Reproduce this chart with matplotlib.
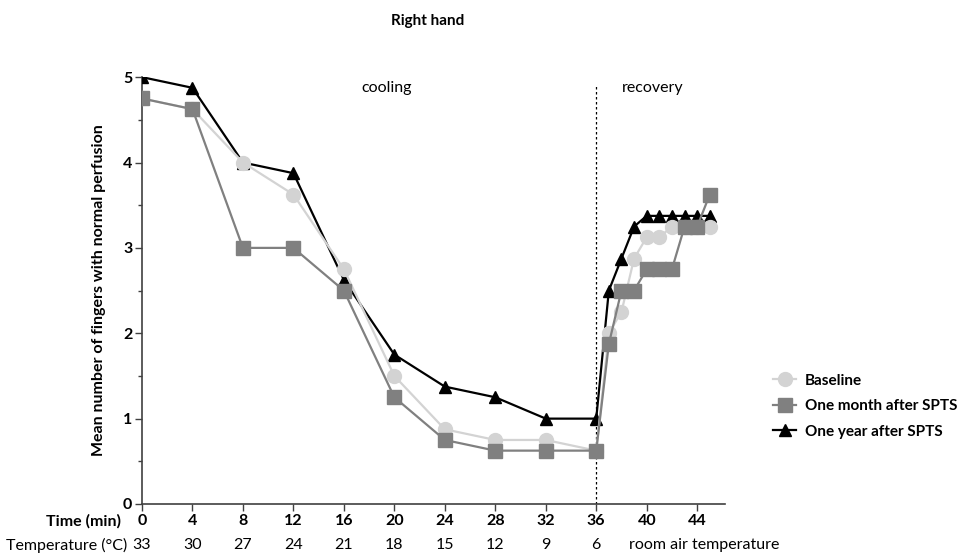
import matplotlib.pyplot as plt
from matplotlib.ticker import MultipleLocator

plt.rcParams['font.family'] = ['Lato', 'DejaVu Sans']

# Data
time = [0, 4, 8, 12, 16, 20, 24, 28, 32, 36, 37, 38, 39, 40, 41, 42, 43, 44, 45]
baseline = [4.75, 4.625, 4.0, 3.625, 2.75, 1.5, 0.875, 0.75, 0.75, 0.625,
            2.0, 2.25, 2.875, 3.125, 3.125, 3.25, 3.25, 3.25, 3.25]
one_month = [4.75, 4.625, 3.0, 3.0, 2.5, 1.25, 0.75, 0.625, 0.625, 0.625,
             1.875, 2.5, 2.5, 2.75, 2.75, 2.75, 3.25, 3.25, 3.625]
one_year = [5.0, 4.875, 4.0, 3.875, 2.625, 1.75, 1.375, 1.25, 1.0, 1.0,
            2.5, 2.875, 3.25, 3.375, 3.375, 3.375, 3.375, 3.375, 3.375]

time_ticks = [0, 4, 8, 12, 16, 20, 24, 28, 32, 36, 40, 44]
temps = ['33', '30', '27', '24', '21', '18', '15', '12', '9', '6']

fig = plt.figure(figsize=(9.64, 5.55), dpi=100)
ax = fig.add_axes([0.1473, 0.0919, 0.6047, 0.7691])

ax.plot(time, one_year, color='black', marker='^', ms=8, lw=1.6,
        label='One year after SPTS', zorder=3)
ax.plot(time, baseline, color='#d3d3d3', marker='o', ms=10, lw=1.6,
        label='Baseline', zorder=4)
ax.plot(time, one_month, color='#808080', marker='s', ms=10, lw=1.6,
        label='One month after SPTS', zorder=5)

ax.axvline(36, color='black', ls=(0, (2, 2)), lw=0.9, ymax=0.985, zorder=1)

ax.set_xlim(0, 46.2)
ax.set_ylim(0, 5)
ax.set_xticks(time_ticks)
ax.set_xticklabels([str(t) for t in time_ticks], fontweight='bold', fontsize=11.5)
ax.set_yticks([0, 1, 2, 3, 4, 5])
ax.set_yticklabels(['0', '1', '2', '3', '4', '5'], fontweight='bold', fontsize=11.5)
ax.yaxis.set_minor_locator(MultipleLocator(0.5))
ax.tick_params(direction='out', length=5, width=1, color='#404040', pad=2)
ax.tick_params(which='minor', direction='out', length=3, width=1, color='#404040')
for s in ['top', 'right']:
    ax.spines[s].set_visible(False)
for s in ['left', 'bottom']:
    ax.spines[s].set_color('#404040')
    ax.spines[s].set_linewidth(1.2)

ax.set_ylabel('Mean number of fingers with normal perfusion',
              fontweight='bold', fontsize=11.5, labelpad=12)

ax.text(19.4, 4.87, 'cooling', fontsize=11.5, ha='center', va='center')
ax.text(40.5, 4.87, 'recovery', fontsize=11.5, ha='center', va='center')

# Temperature row under the time ticks
tr = ax.get_xaxis_transform()
for t, lab in zip(time_ticks, temps):
    ax.text(t, -0.096, lab, transform=tr, ha='center', va='center', fontsize=11.5)
ax.text(38.6, -0.096, 'room air temperature', transform=tr, ha='left',
        va='center', fontsize=11.5)
fig.text(0.125, 0.061, 'Time (min)', ha='right', va='center',
         fontweight='bold', fontsize=11.5)
fig.text(0.132, 0.018, 'Temperature (\u00b0C)', ha='right', va='center',
         fontsize=11.5)

fig.text(0.444, 0.963, 'Right hand', ha='center', va='center',
         fontweight='bold', fontsize=11)

handles, labels = ax.get_legend_handles_labels()
order = [1, 2, 0]
leg = fig.legend([handles[i] for i in order], [labels[i] for i in order],
                 loc='center left', bbox_to_anchor=(0.802, 0.268),
                 frameon=False, handlelength=1.5, handletextpad=0.6,
                 labelspacing=0.75, borderaxespad=0, borderpad=0,
                 prop={'weight': 'bold', 'size': 11})

fig.savefig('out.png', dpi=100)
